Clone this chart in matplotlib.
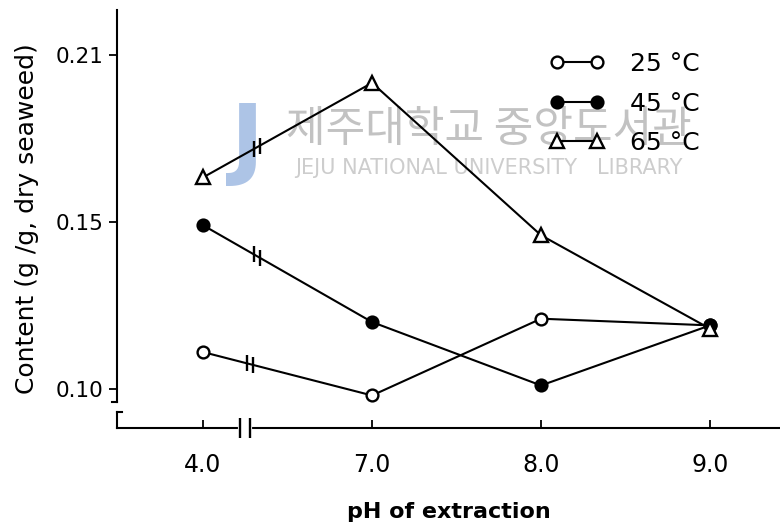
import numpy as np
import matplotlib
matplotlib.use('Agg')
import matplotlib.pyplot as plt

# pH of extraction (categorical, with a break between 4.0 and 7.0)
ph_labels = ['4.0', '7.0', '8.0', '9.0']

# content (g/g, dry seaweed) at each extraction temperature
content_25 = [0.111, 0.098, 0.121, 0.119]
content_45 = [0.149, 0.120, 0.101, 0.119]
content_65 = [0.166, 0.200, 0.146, 0.118]

temp_labels = ['25 °C', '45 °C', '65 °C']
y_ticks = [0.10, 0.15, 0.21]
y_tick_labels = ['0.10', '0.15', '0.21']


# the y axis has evenly spaced ticks at 0.10 / 0.15 / 0.21
def fwd(v):
    v = np.asarray(v, dtype=float)
    return np.where(v < 0.15, (v - 0.10) / 0.05, 1 + (v - 0.15) / 0.06)


def inv(t):
    t = np.asarray(t, dtype=float)
    return np.where(t < 1, 0.10 + 0.05 * t, 0.15 + 0.06 * (t - 1))


plt.rcParams['font.family'] = ['DejaVu Sans']

fig = plt.figure(figsize=(7.8, 5.28), dpi=100)
ax = fig.add_axes([117 / 780, 1 - 428 / 528, 1 - 117 / 780, 418 / 528])
ax.set_yscale('function', functions=(fwd, inv))
ax.set_xlim(-0.509, 3.414)
ax.set_ylim(float(inv(-0.235)), float(inv(2.27)))

# library stamp in the background
ax.text(0.627, 0.754, '제주대학교 중앙도서관', transform=fig.transFigure,
        family=['Noto Sans CJK KR', 'DejaVu Sans'], fontsize=31,
        color='#c2c2c2', ha='center', va='center', zorder=0)
ax.text(0.627, 0.682, 'JEJU NATIONAL UNIVERSITY   LIBRARY', transform=fig.transFigure,
        fontsize=15, color='#cdcdcd', ha='center', va='center', zorder=0)
ax.text(0.318, 0.728, 'J', transform=fig.transFigure, fontsize=64,
        color='#adc4e6', ha='center', va='center', zorder=0, fontweight='bold')

x = np.arange(len(ph_labels))
styles = [('o', 'white', 8.5, 0.26), ('o', 'black', 8.5, 0.30), ('^', 'white', 9.5, 0.30)]
for vals, (mk, fc, ms, brk), lab in zip([content_25, content_45, content_65], styles, temp_labels):
    ax.plot(x, vals, color='black', lw=1.5, marker=mk, ms=ms, mfc=fc,
            mec='black', mew=1.7, label=lab, clip_on=False, zorder=5)
    # break marks on the 4.0 -> 7.0 segment
    t0, t1 = fwd(vals[0]), fwd(vals[1])
    for f in (brk, brk + 0.035):
        ax.plot(f, inv(t0 + f * (t1 - t0)), marker='|', ms=12, mew=1.7,
                color='black', zorder=6)

# axes decoration
for side in ['top', 'right', 'left']:
    ax.spines[side].set_visible(False)
ax.spines['bottom'].set_linewidth(1.5)

ax.plot([0, 0], [0.062, 1], transform=ax.transAxes, color='black', lw=1.5, clip_on=False)
ax.plot([0, 0], [0, 0.038], transform=ax.transAxes, color='black', lw=1.5, clip_on=False)
ax.plot([-0.008, 0], [0.062, 0.062], transform=ax.transAxes, color='black', lw=1.5, clip_on=False)
ax.plot([0, 0.008], [0.038, 0.038], transform=ax.transAxes, color='black', lw=1.5, clip_on=False)

# break on the x axis
xt = ax.get_xaxis_transform()
ax.plot([0.22, 0.28], [0, 0], transform=xt, color='white', lw=3, zorder=3, clip_on=False)
ax.plot([0.22, 0.28], [0, 0], transform=xt, ls='none', marker='|', ms=14, mew=1.7,
        color='black', zorder=4, clip_on=False)

ax.set_xticks(x)
ax.set_xticklabels(ph_labels, fontsize=17)
ax.set_yticks(y_ticks)
ax.set_yticklabels(y_tick_labels, fontsize=15.5)
ax.yaxis.set_minor_locator(matplotlib.ticker.NullLocator())
ax.tick_params(axis='x', direction='in', length=6, width=1.3, pad=18)
ax.tick_params(axis='y', direction='out', length=6, width=1.3, pad=4)

ax.set_xlabel('pH of extraction', fontsize=16, fontweight='bold', labelpad=18)
ax.set_ylabel('Content (g /g, dry seaweed)', fontsize=18, labelpad=12)

ax.legend(loc='upper left', bbox_to_anchor=(0.638, 0.923), frameon=False,
          numpoints=2, handlelength=2.2, handletextpad=1.0, labelspacing=0.62,
          fontsize=18, borderaxespad=0)

fig.savefig('out.png', dpi=100)
